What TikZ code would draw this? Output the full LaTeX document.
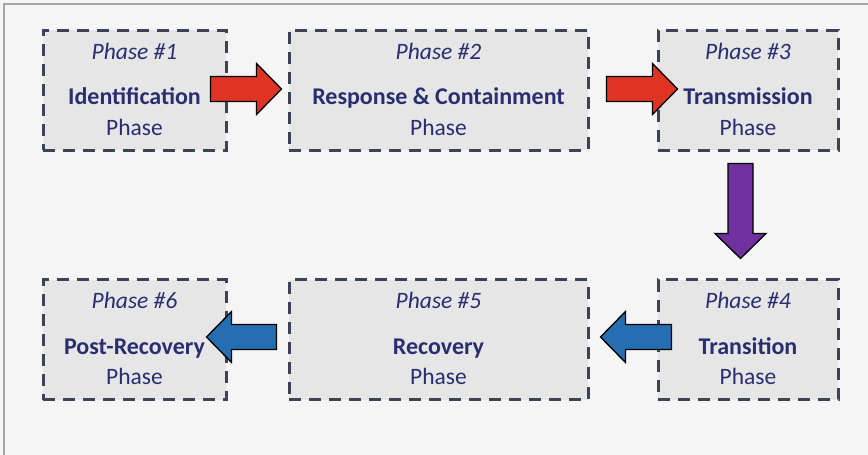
\documentclass[tikz,border=0pt]{standalone}
\usepackage{fontspec}
\setmainfont{Carlito}

\definecolor{pagebg}{RGB}{245,245,245}
\definecolor{frameline}{RGB}{166,166,166}
\definecolor{boxfill}{RGB}{230,230,230}
\definecolor{boxline}{RGB}{59,68,86}
\definecolor{phtext}{RGB}{40,46,112}
\definecolor{arrowred}{RGB}{224,51,36}
\definecolor{arrowpurple}{RGB}{112,48,160}
\definecolor{arrowblue}{RGB}{38,110,178}

\tikzset{
    phbox/.style={draw=boxline, fill=boxfill, line width=3pt, dash pattern=on 12pt off 8pt,
        minimum height=120pt, inner sep=0pt},
    phnum/.style={anchor=base, text=phtext, font=\fontsize{23.5}{28}\selectfont\itshape},
    phname/.style={anchor=base, text=phtext, font=\fontsize{24}{28}\selectfont\bfseries},
    phword/.style={anchor=base, text=phtext, font=\fontsize{23.5}{28}\selectfont},
    arrowlen/.store in=\arrowlen, arrowlen=71,
    % block arrow pointing along +x, tail at the origin
    fatarrow/.pic={
        \filldraw[pic actions, draw=black, line width=1.3pt, line join=miter]
            (0,-12.5) -- (\arrowlen-25,-12.5) -- (\arrowlen-25,-25.5) -- (\arrowlen,0)
            -- (\arrowlen-25,25.5) -- (\arrowlen-25,12.5) -- (0,12.5) -- cycle;
    }
}

\begin{document}
\begin{tikzpicture}[x=1pt,y=-1pt]
    \useasboundingbox (0,0) rectangle (868,455);
    \fill[pagebg] (0,0) rectangle (868,455);
    \draw[frameline, line width=2pt] (4,4) rectangle (880,470);

    % the six phases
    \foreach \n/\x/\y/\w/\title in {1/134.5/90/183/Identification,
            2/438.5/90/299/Response \& Containment,
            3/748/90/180/Transmission,
            4/748/339.5/180/Transition,
            5/438.5/339.5/299/Recovery,
            6/134.5/339.5/183/Post-Recovery}{
        \node[phbox, minimum width=\w pt] (p\n) at (\x,\y) {};
        \node[phnum] (p\n-num) at ([yshift=-30.5pt]p\n.north) {Phase \#\n};
        \node[phname] (p\n-name) at ([yshift=-76pt]p\n.north) {\title};
        \node[phword] (p\n-word) at ([yshift=-106.5pt]p\n.north) {Phase};
    }

    % arrows between phases
    \pic[fill=arrowred] (a12) at ([xshift=-17pt, yshift=1pt]p1.east) {fatarrow};
    \pic[fill=arrowred] (a23) at ([xshift=17pt, yshift=1pt]p2.east) {fatarrow};
    \pic[fill=arrowpurple, rotate=-90, arrowlen=95] (a34) at ([xshift=-7.5pt, yshift=-12pt]p3.south) {fatarrow};
    \pic[fill=arrowblue, rotate=180, arrowlen=71] (a45) at ([xshift=15pt, yshift=2.5pt]p4.west) {fatarrow};
    \pic[fill=arrowblue, rotate=180, arrowlen=70] (a56) at ([xshift=-11pt, yshift=2.5pt]p5.west) {fatarrow};
\end{tikzpicture}
\end{document}
